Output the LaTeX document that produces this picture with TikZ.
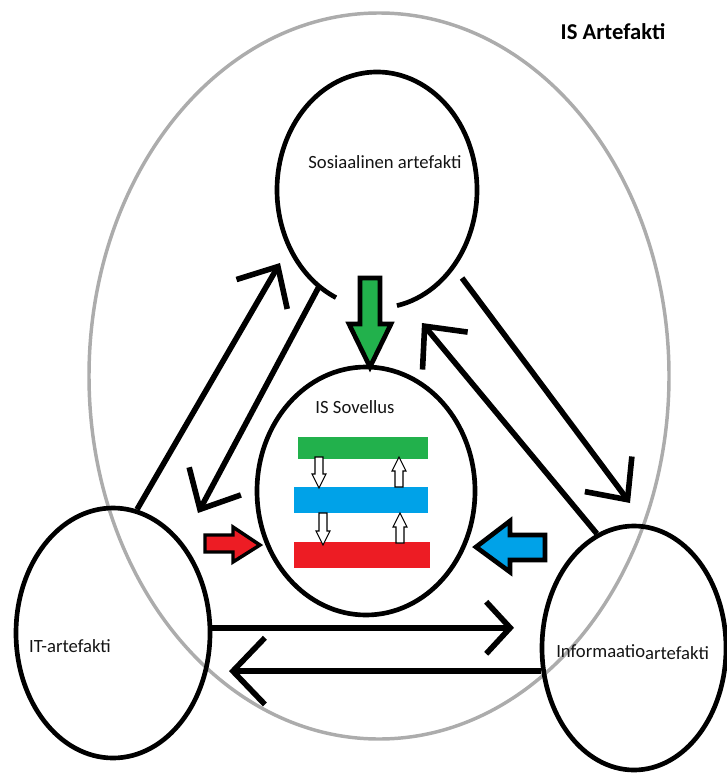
\documentclass[tikz,border=0pt]{standalone}
\usepackage{fontspec}
\setmainfont{Carlito}
\usetikzlibrary{shapes.geometric,arrows.meta}
\definecolor{pgreen}{RGB}{34,177,76}
\definecolor{pblue}{RGB}{0,162,232}
\definecolor{pred}{RGB}{237,28,36}
\definecolor{pgray}{RGB}{172,172,172}
\begin{document}
\begin{tikzpicture}[x=0.75pt,y=-0.75pt,
  oval/.style={ellipse, draw=black, line width=3.5pt, inner sep=0pt},
  lbl/.style={font=\fontsize{14}{16}\selectfont, inner sep=0pt, text=black!92},
  flow/.style={line width=4.2pt, -{Straight Barb[length=24pt,width=44pt]}},
  bigarrow/.style={draw=black, line width=3.5pt, line join=miter},
  tinyarrow/.style={draw=black, fill=white, line width=0.8pt},
  bar/.style={inner sep=0pt, draw=none}]
\useasboundingbox (0,0) rectangle (726,773);

% outer IS artefact
\node[ellipse, draw=pgray, line width=2.6pt, minimum width=435pt, minimum height=544.5pt, inner sep=0pt] (outer) at (379,376) {};
\node[font=\bfseries\fontsize{17}{20}\selectfont, inner sep=0pt] (title) at (613,32) {IS Artefakti};

% social artefact (open at the bottom)
\node[ellipse, minimum width=150pt, minimum height=177pt, inner sep=0pt] (soc) at (377,190) {};
\draw[line width=3.5pt] ([shift={(-78.5:75pt and 88.5pt)}]soc.center) arc[start angle=-78.5, end angle=245.8, x radius=75pt, y radius=88.5pt];
\node[lbl] (soctext) at (385,162) {Sosiaalinen artefakti};

% IS application
\node[oval, minimum width=163.5pt, minimum height=186pt] (app) at (366,491) {};
\node[lbl] (apptext) at (355,407) {IS Sovellus};
\node[bar, fill=pgreen, minimum width=97.5pt, minimum height=16.5pt] (gbar) at (363,448) {};
\node[bar, fill=pblue, minimum width=100.5pt, minimum height=19.5pt] (bbar) at (361,500) {};
\node[bar, fill=pred, minimum width=102pt, minimum height=19.5pt] (rbar) at (362,555) {};

% small white arrows between the layers
\draw[tinyarrow] (315,457)--(323,457)--(323,474)--(326,474)--(319,488)--(312,474)--(315,474)--cycle;
\draw[tinyarrow] (395,487)--(403,487)--(403,471)--(406,471)--(399,457)--(392,471)--(395,471)--cycle;
\draw[tinyarrow] (319,513)--(327,513)--(327,531)--(330,531)--(323,545)--(316,531)--(319,531)--cycle;
\draw[tinyarrow] (396,543)--(404,543)--(404,527)--(407,527)--(400,513)--(393,527)--(396,527)--cycle;

% IT artefact and information artefact
\node[oval, minimum width=145.5pt, minimum height=187.5pt] (it) at (113,633) {};
\node[lbl] (ittext) at (70,646) {IT-artefakti};
\node[oval, minimum width=138pt, minimum height=183pt] (info) at (634,648) {};
\node[lbl, anchor=base west] (infotext) at (556,657) {Informaatio\raisebox{-2pt}{artefakti}};

% big coloured arrows
\draw[bigarrow, fill=pgreen] (360,278)--(380,278)--(380,324)--(391,324)--(370,367)--(349,324)--(360,324)--cycle;
\draw[bigarrow, fill=pred, line width=2.6pt] (205,535)--(233,535)--(233,527)--(260,545)--(233,562)--(233,552)--(205,552)--cycle;
\draw[bigarrow, fill=pblue] (545,535)--(510,535)--(510,521)--(476,547)--(510,572)--(510,560)--(545,560)--cycle;

% black connectors
\coordinate (a1e) at (280,263);
\coordinate (a2e) at (198,513);
\coordinate (a3s) at (462,278);
\coordinate (a3e) at (630,503);
\coordinate (a4e) at (422,323);
\coordinate (a5e) at (514,627);
\coordinate (a6e) at (229,671);
\draw[flow] (it.79) -- (a1e);
\draw[flow] (soc.239) -- (a2e);
\draw[flow] (a3s) -- (a3e);
\draw[flow] (info.108) -- (a4e);
\draw[line width=4.2pt, -{Straight Barb[length=18pt,width=39pt]}] (it.3) -- (it.3 -| a5e);
\draw[line width=4.2pt, -{Straight Barb[length=24pt,width=50pt]}] (info.194) -- (info.194 -| a6e);
\end{tikzpicture}
\end{document}
